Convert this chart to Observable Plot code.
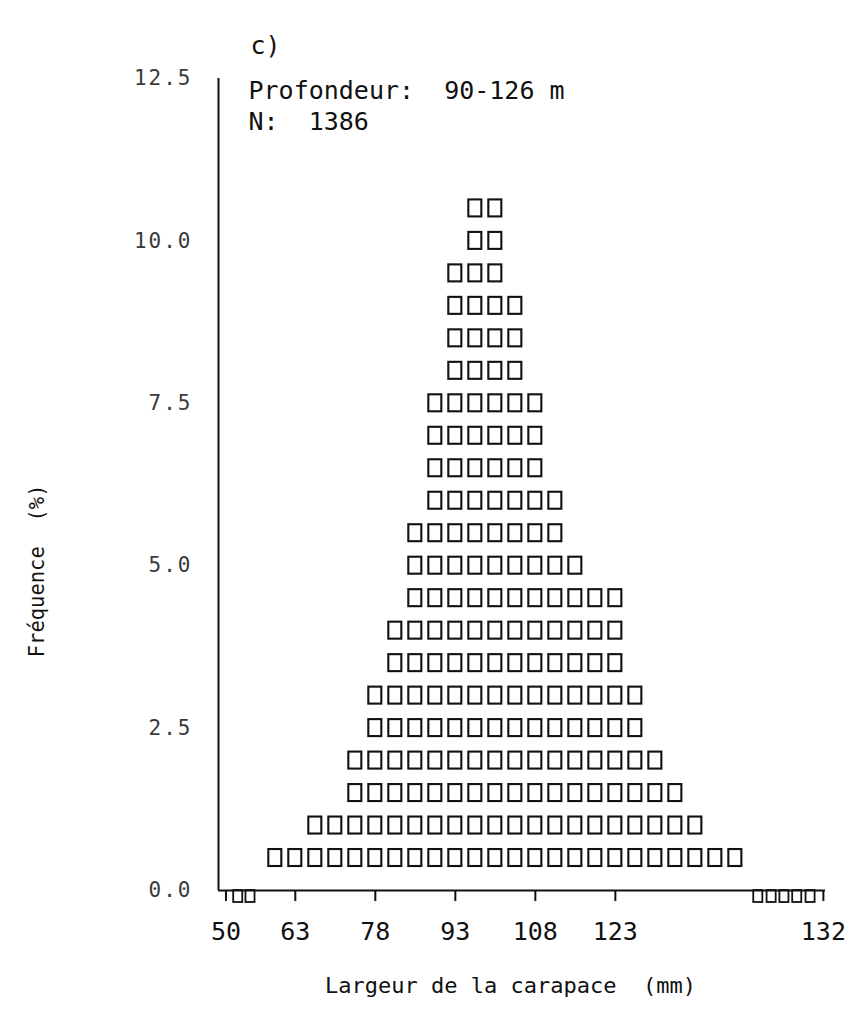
<!DOCTYPE html>
<html><head><meta charset="utf-8">
<script src="https://cdn.jsdelivr.net/npm/d3@7"></script>
<script src="https://cdn.jsdelivr.net/npm/@observablehq/plot@0.6"></script>
<style>
html,body{margin:0;padding:0;background:#fff;}
#chart{position:relative;width:857px;height:1013px;overflow:hidden;}
svg text{white-space:pre;}
g[aria-label="y-axis tick label"] text{letter-spacing:2px;}
</style>
</head><body><div id="chart"></div>
<script>
// ---- texts ----
const panelLabel = "c)";
const depthLabel = "Profondeur:  90-126 m";
const countLabel = "N:  1386";
const xTitle = "Largeur de la carapace  (mm)";
const yTitle = "Fréquence  (%)";

// ---- data: printer columns (bin centres, mm) and frequency (%) ----
const binMid  = [59.25, 63, 66.75, 70.5, 74.25, 78, 81.75, 85.5, 89.25, 93, 96.75, 100.5,
                 104.25, 108, 111.75, 115.5, 119.25, 123, 126.75, 130.5, 134.25, 138, 141.75, 145.5];
const freqPct = [0.5, 0.5, 1, 1, 2, 3, 4, 5.5, 7.5, 9.5, 10.5, 10.5,
                 9, 7.5, 6, 5, 4.5, 4.5, 3, 2, 1.5, 1, 0.5, 0.5];
const binWidth = 3.75;   // mm per printer column
const boxUnit = 0.5;     // % represented by one printed box

// ---- axes ----
const xTickValues = [50, 63, 78, 93, 108, 123, 162];
const xTickLabels = ["50", "63", "78", "93", "108", "123", "132"];
const yTickValues = [0, 2.5, 5, 7.5, 10, 12.5];
const axisStubs = [52.3, 54.6, 149.8, 152.3, 154.7, 157.1, 159.6]; // printed marks under the axis
const xDomain = [48.6, 162.4];
const yDomain = [0, 12.5];

const boxes = binMid.flatMap((m, i) =>
  d3.range(1, Math.round(freqPct[i] / boxUnit) + 1).map(j => ({x: m, level: j * boxUnit})));

const mono = "DejaVu Sans Mono";
const ink = "#111";

const chart = Plot.plot({
  width: 857, height: 1013,
  marginLeft: 218, marginRight: 32, marginTop: 78, marginBottom: 123,
  style: {fontFamily: mono, color: ink, background: "#fff"},
  x: {domain: xDomain, label: null},
  y: {domain: yDomain, label: null},
  marks: [
    Plot.rect(boxes, {
      x1: d => d.x - binWidth / 2, x2: d => d.x + binWidth / 2,
      y1: d => d.level - boxUnit / 2, y2: d => d.level + boxUnit / 2,
      insetLeft: 3.5, insetRight: 3.5, insetTop: 7.75, insetBottom: 7.75,
      fill: "none", stroke: ink, strokeWidth: 2.1
    }),
    Plot.rect(axisStubs, {
      x1: d => d - 0.85, x2: d => d + 0.85, y1: 0, y2: 0, insetBottom: -12,
      fill: "none", stroke: ink, strokeWidth: 1.8
    }),
    Plot.ruleY([0], {stroke: ink, strokeWidth: 2.2}),
    Plot.ruleX([xDomain[0]], {stroke: ink, strokeWidth: 2}),
    Plot.axisX({
      ticks: xTickValues,
      tickFormat: d => xTickLabels[xTickValues.indexOf(d)],
      tickSize: 11, tickPadding: 21, fontSize: 25, strokeWidth: 2, label: null
    }),
    Plot.axisY({
      ticks: yTickValues, tickFormat: d3.format(".1f"),
      tickSize: 0, tickPadding: 26, fontSize: 21, fill: "#3a3a3a", label: null
    }),
    Plot.text([panelLabel], {frameAnchor: "top-left", dx: 32, dy: -42, textAnchor: "start", fontSize: 25, fill: ink}),
    Plot.text([depthLabel], {frameAnchor: "top-left", dx: 30, dy: 3, textAnchor: "start", fontSize: 25, fill: ink}),
    Plot.text([countLabel], {frameAnchor: "top-left", dx: 30, dy: 34, textAnchor: "start", fontSize: 25, fill: ink}),
    Plot.text([xTitle], {frameAnchor: "bottom", dx: 510 - (218 + (857 - 32 - 218) / 2), dy: 102, fontSize: 22, fill: ink}),
    Plot.text([yTitle], {frameAnchor: "left", dx: -181, textAnchor: "end", rotate: -90, fontSize: 20.5, fill: ink})
  ]
});
document.getElementById("chart").appendChild(chart);
</script>
</body></html>
